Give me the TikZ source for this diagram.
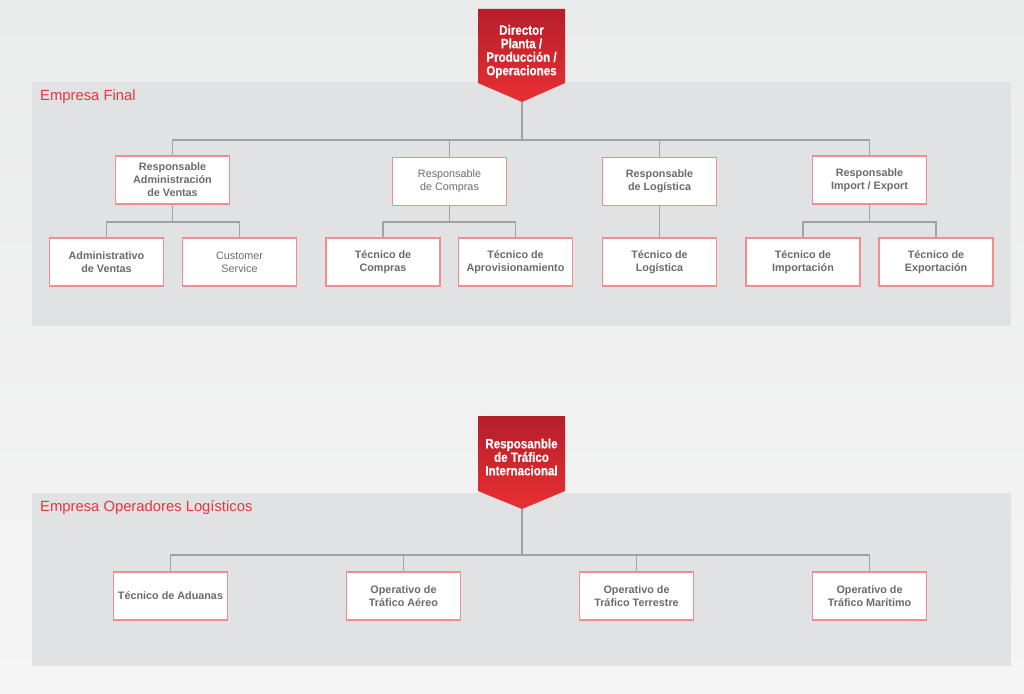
\documentclass[tikz,border=0pt]{standalone}
\usepackage{fontspec}
\setmainfont{Liberation Sans}
\newfontfamily\hdfont{Liberation Sans Bold}[FakeStretch=0.86, FakeBold=0.5]
\definecolor{bgtop}{HTML}{EAEBEB}
\definecolor{bgbot}{HTML}{F5F5F5}
\definecolor{panel}{HTML}{E1E2E3}
\definecolor{boxline}{HTML}{EE8E8E}
\definecolor{txt}{HTML}{6A6B6E}
\definecolor{redt}{HTML}{E8353B}
\definecolor{conncol}{HTML}{A0A1A3}
\definecolor{hdtop}{HTML}{B51E2A}
\definecolor{hdbot}{HTML}{E93032}
\tikzset{
  orgbox/.style={draw=boxline, line width=1.2pt, fill=white, minimum width=114pt,
    minimum height=48pt, align=center, inner sep=0pt, text=txt,
    font=\fontsize{10.8}{13}\selectfont\bfseries},
  lightbox/.style={orgbox, font=\fontsize{10.8}{13}\selectfont},
  conn/.style={draw=conncol, line width=1.2pt},
  hdtext/.style={text=white, align=center, inner sep=0pt,
    font=\fontsize{13.5}{13.5}\hdfont},
  paneltitle/.style={text=redt, anchor=base west, inner sep=0pt,
    font=\fontsize{14.8}{16}\selectfont},
  headshape/.style={top color=hdtop, bottom color=hdbot, draw=none}
}
\begin{document}
\begin{tikzpicture}[x=1pt,y=-1pt]
\useasboundingbox (0,0) rectangle (1024,693);
\shade[top color=bgtop, bottom color=bgbot] (0,0) rectangle (1024,693);
% panels
\fill[panel] (32,82) rectangle (1011,326);
\fill[panel] (32,493) rectangle (1011,666);
\node[paneltitle] (t1) at (40,100) {Empresa Final};
\node[paneltitle] (t2) at (40,511) {Empresa Operadores Logísticos};

% top header
\shade[headshape] (478,9) -- (565,9) -- (565,83) -- (522,102) -- (478,83) -- cycle;
\node[hdtext] (hd1) at (521.5,51.5) {Director\\Planta /\\Producción /\\Operaciones};
\coordinate (tip1) at (522,102);

% row 1
\node[orgbox]   (rav) at (172.5,180) {Responsable\\Administración\\de Ventas};
\node[lightbox] (rc)  at (449.5,181.5) {Responsable\\de Compras};
\node[orgbox]   (rl)  at (659.5,181.5) {Responsable\\de Logística};
\node[orgbox]   (rie) at (869.5,180) {Responsable\\Import / Export};

% row 2
\node[orgbox]   (av) at (106.5,262) {Administrativo\\de Ventas};
\node[lightbox] (cs) at (239.5,262) {Customer\\Service};
\node[orgbox]   (tc) at (383,262) {Técnico de\\Compras};
\node[orgbox]   (ta) at (515.5,262) {Técnico de\\Aprovisionamiento};
\node[orgbox]   (tl) at (659.5,262) {Técnico de\\Logística};
\node[orgbox]   (ti) at (803,262) {Técnico de\\Importación};
\node[orgbox]   (te) at (936,262) {Técnico de\\Exportación};

\coordinate (bus1) at (0,140);
\coordinate (sub1) at (0,222);
\draw[conn] (rav.north) |- (bus1 -| rie.north) -- (rie.north);
\draw[conn] (tip1) -- (tip1 |- bus1);
\draw[conn] (rc.north) -- (rc.north |- bus1);
\draw[conn] (rl.north) -- (rl.north |- bus1);

\draw[conn] (rav.south) -- (rav.south |- sub1);
\draw[conn] (av.north) |- (sub1 -| cs.north) -- (cs.north);
\draw[conn] (rc.south) -- (rc.south |- sub1);
\draw[conn] (tc.north) |- (sub1 -| ta.north) -- (ta.north);
\draw[conn] (rl.south) -- (tl.north);
\draw[conn] (rie.south) -- (rie.south |- sub1);
\draw[conn] (ti.north) |- (sub1 -| te.north) -- (te.north);

% bottom header
\shade[headshape] (478,416) -- (565,416) -- (565,491) -- (522,509) -- (478,491) -- cycle;
\node[hdtext] (hd2) at (521.5,457) {Resposanble\\de Tráfico\\Internacional};
\coordinate (tip2) at (522,509);

\node[orgbox] (ad)  at (170.5,596) {Técnico de Aduanas};
\node[orgbox] (aer) at (403.5,596) {Operativo de\\Tráfico Aéreo};
\node[orgbox] (ter) at (636.5,596) {Operativo de\\Tráfico Terrestre};
\node[orgbox] (mar) at (869.5,596) {Operativo de\\Tráfico Marítimo};

\coordinate (bus2) at (0,555);
\draw[conn] (ad.north) |- (bus2 -| mar.north) -- (mar.north);
\draw[conn] (tip2) -- (tip2 |- bus2);
\draw[conn] (aer.north) -- (aer.north |- bus2);
\draw[conn] (ter.north) -- (ter.north |- bus2);
\end{tikzpicture}
\end{document}
